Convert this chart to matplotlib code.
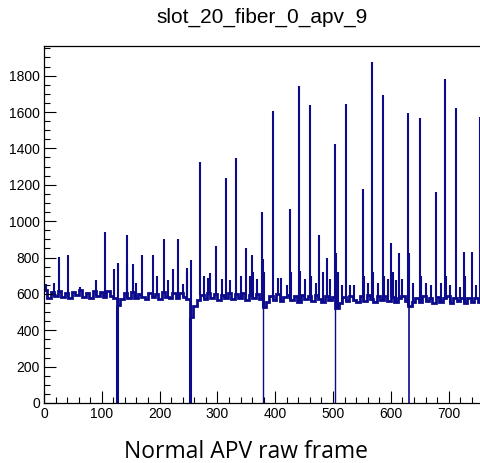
import matplotlib.pyplot as plt
import numpy as np

plt.rcParams['font.family'] = ['Liberation Sans', 'DejaVu Sans']

title = 'slot_20_fiber_0_apv_9'
caption = 'Normal APV raw frame'

# baseline ADC level, one value per 6-sample bin (0 .. 756)
bin_width = 6
baseline = [
    620, 580, 610, 590, 618, 585, 605, 575, 612, 592, 620, 584, 606, 580, 615, 590, 608, 584, 616, 590, 580,
    540,
    570, 605, 580, 610, 575, 602, 585, 570, 606, 582, 600, 572, 608, 585, 575, 604, 580, 606, 585, 572,
    475, 535, 568,
    595, 570, 606, 575, 600, 565, 596, 580, 606, 570, 598, 575, 604, 565, 594, 575, 600, 570,
    530, 558,
    590, 565, 598, 560, 585, 595, 565, 590, 555, 594, 570, 586, 560, 596, 574, 555, 590, 566, 585,
    520, 552,
    584, 560, 590, 565, 555, 588, 562, 596, 570, 555, 586, 565, 590, 560, 584, 555, 580, 588, 560,
    535, 556,
    580, 555, 586, 560, 578, 550, 584, 556, 576, 586, 552, 578, 560, 580, 550, 576, 556, 580, 555,
]

# single-sample spikes above the baseline
spike_pos = [4, 18, 26, 42, 62, 90, 106, 121, 128, 143, 144, 154, 160, 170, 189, 196, 207, 214, 223,
             231, 240, 247, 248, 255, 270, 276, 284, 287, 298, 308, 315, 322, 332, 340, 349, 356,
             359, 361, 368, 377, 379, 381, 397, 404, 410, 420, 426, 428, 441, 443, 452, 460, 462,
             470, 475, 483, 489, 495, 503, 506, 508, 515, 523, 530, 536, 551, 553, 560, 568, 570,
             578, 586, 588, 595, 601, 603, 609, 615, 620, 630, 632, 638, 650, 652, 660, 670, 678,
             686, 694, 696, 703, 713, 720, 727, 729, 741, 748, 754]
spike_val = [655, 660, 803, 814, 640, 677, 940, 737, 772, 925, 760, 765, 660, 814, 814, 700, 902, 677, 737,
             902, 655, 743, 720, 787, 1326, 700, 690, 715, 864, 680, 1238, 677, 1348, 700, 855, 700,
             814, 720, 680, 1053, 790, 720, 1603, 688, 688, 650, 1068, 720, 1741, 726, 680, 1636, 700,
             660, 924, 721, 800, 680, 1425, 825, 720, 650, 1645, 650, 650, 1178, 700, 660, 1873, 720,
             660, 1695, 700, 680, 879, 720, 677, 827, 680, 1596, 825, 660, 1565, 700, 660, 650, 1163,
             660, 1783, 700, 650, 1622, 640, 829, 700, 829, 650, 1574]

# header drops down to zero
drop_pos = [126, 252, 378, 504, 631]
drop_width = [2.2, 2.2, 1.0, 1.0, 1.2]

col = '#0b0b8c'

fig = plt.figure(figsize=(4.81, 4.63), dpi=100)
ax = fig.add_axes([0.0915, 0.1296, 0.9085, 0.771])

edges = np.arange(len(baseline) + 1) * bin_width
ax.stairs(baseline, edges, color=col, lw=2.0, baseline=None)

base_at = lambda xs: [baseline[min(int(x // bin_width), len(baseline) - 1)] for x in xs]
ax.vlines(spike_pos, base_at(spike_pos), spike_val, color=col, lw=1.5)
ax.vlines(drop_pos, 0, base_at(drop_pos), color=col, lw=drop_width)

ax.set_xlim(0, 756)
ax.set_ylim(0, 1963)
ax.set_xticks(np.arange(0, 800, 100))
ax.set_xticks(np.arange(0, 760, 20), minor=True)
ax.set_yticks(np.arange(0, 1900, 200))
ax.set_yticks(np.arange(0, 1963, 50), minor=True)
ax.tick_params(which='both', direction='in', top=False, right=False, labelsize=10, width=0.8)
ax.tick_params(which='major', length=8.5, pad=3)
ax.tick_params(which='minor', length=4.3)
for s in ax.spines.values():
    s.set_linewidth(0.9)

fig.text(0.545, 0.963, title, ha='center', va='center', fontsize=15)
fig.text(0.512, 0.011, caption, ha='center', va='baseline', fontsize=16.5,
         family=['Open Sans', 'DejaVu Sans'])

fig.savefig('out.png', dpi=100)
